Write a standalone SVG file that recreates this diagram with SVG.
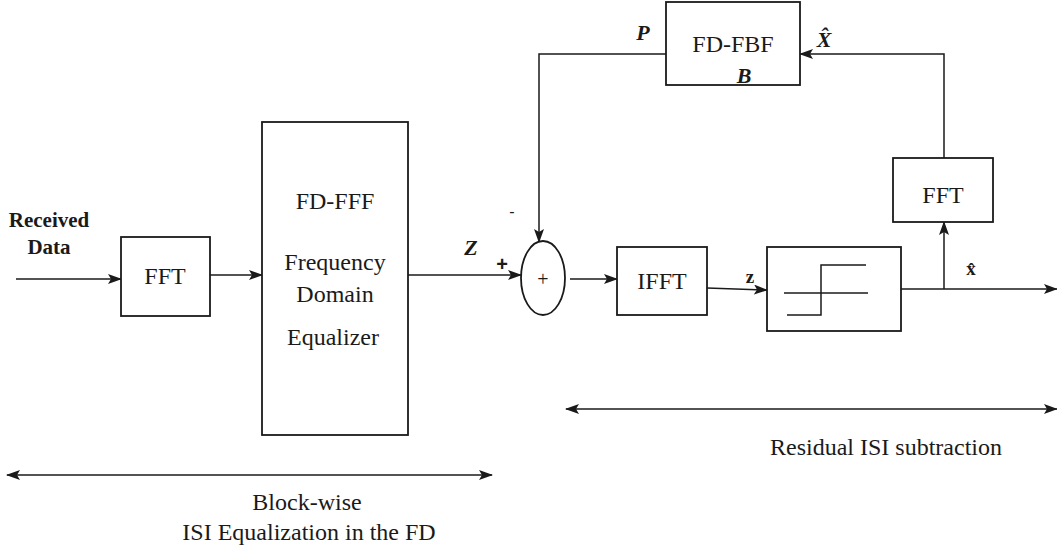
<svg xmlns="http://www.w3.org/2000/svg" width="1057" height="556" viewBox="0 0 1057 556">
<defs>
<marker id="ah" markerUnits="userSpaceOnUse" markerWidth="14" markerHeight="10" refX="13" refY="5" orient="auto">
<path d="M0,0 L14,5 L0,10 L3,5 Z" fill="#1a1a1a"/>
</marker>
<marker id="ahs" markerUnits="userSpaceOnUse" markerWidth="14" markerHeight="10" refX="1" refY="5" orient="auto">
<path d="M14,0 L0,5 L14,10 L11,5 Z" fill="#1a1a1a"/>
</marker>
</defs>
<style>
.box{fill:#fff;stroke:#1a1a1a;stroke-width:1.8}
.ln{fill:none;stroke:#1a1a1a;stroke-width:1.5}
.t{font-family:"Liberation Serif","Times New Roman",serif;font-size:24px;fill:#1a1a1a;text-anchor:middle}
.b{font-family:"Liberation Serif","Times New Roman",serif;font-size:21px;font-weight:bold;fill:#1a1a1a;text-anchor:middle}
.bi{font-family:"Liberation Serif","Times New Roman",serif;font-size:22px;font-weight:bold;font-style:italic;fill:#1a1a1a;text-anchor:middle}
</style>
<rect width="1057" height="556" fill="#fff"/>
<g id="connectors">
<line class="ln" x1="16" y1="279" x2="121" y2="279" marker-end="url(#ah)"/>
<line class="ln" x1="210" y1="275" x2="262" y2="275" marker-end="url(#ah)"/>
<line class="ln" x1="408" y1="275" x2="521" y2="275" marker-end="url(#ah)"/>
<line class="ln" x1="570" y1="279" x2="617" y2="279" marker-end="url(#ah)"/>
<line class="ln" x1="707" y1="288" x2="767" y2="290" marker-end="url(#ah)"/>
<line class="ln" x1="901" y1="289" x2="1057" y2="289" marker-end="url(#ah)"/>
<line class="ln" x1="944" y1="289" x2="944" y2="222" marker-end="url(#ah)"/>
<polyline class="ln" points="944,158 944,54 800,54" marker-end="url(#ah)"/>
<polyline class="ln" points="670,54 539,54 539,242" marker-end="url(#ah)"/>
<line class="ln" x1="7" y1="475" x2="492" y2="475" marker-start="url(#ahs)" marker-end="url(#ah)"/>
<line class="ln" x1="566" y1="409" x2="1057" y2="409" marker-start="url(#ahs)" marker-end="url(#ah)"/>
</g>
<g id="input-label">
<text class="b" x="49" y="227">Received</text>
<text class="b" x="49" y="254">Data</text>
</g>
<g id="fft1">
<rect class="box" x="121" y="237" width="89" height="79"/>
<text class="t" x="165" y="284">FFT</text>
</g>
<g id="fdfff">
<rect class="box" x="262" y="122" width="146" height="313"/>
<text class="t" x="335" y="209">FD-FFF</text>
<text class="t" x="335" y="270">Frequency</text>
<text class="t" x="335" y="302">Domain</text>
<text class="t" x="333" y="345">Equalizer</text>
</g>
<g id="summer">
<ellipse class="box" cx="543" cy="278" rx="22" ry="37"/>
<text x="543" y="286" font-family="Liberation Serif, serif" font-size="20" fill="#1a1a1a" text-anchor="middle">+</text>
<text class="bi" x="471" y="255">Z</text>
<text x="502" y="271" font-family="Liberation Sans, Arial, sans-serif" font-size="20" font-weight="bold" fill="#1a1a1a" text-anchor="middle">+</text>
<text x="512" y="217" font-family="Liberation Sans, Arial, sans-serif" font-size="16" fill="#1a1a1a" text-anchor="middle">-</text>
</g>
<g id="ifft">
<rect class="box" x="617" y="247" width="90" height="68"/>
<text class="t" x="662" y="289">IFFT</text>
<text x="750" y="283" font-family="Liberation Serif, serif" font-size="19" font-weight="bold" fill="#1a1a1a" text-anchor="middle">z</text>
</g>
<g id="slicer">
<rect class="box" x="767" y="247" width="134" height="84"/>
<line class="ln" x1="784" y1="293" x2="868" y2="293"/>
<polyline class="ln" points="787,315 821,315 821,265 866,265"/>
</g>
<g id="fft2">
<rect class="box" x="893" y="158" width="100" height="64"/>
<text class="t" x="943" y="203">FFT</text>
<text x="971" y="275" font-family="Liberation Serif, serif" font-size="19" font-weight="bold" fill="#1a1a1a" text-anchor="middle">x̂</text>
</g>
<g id="fdfbf">
<rect class="box" x="666" y="2" width="134" height="83"/>
<text class="t" x="733" y="52">FD-FBF</text>
<text class="bi" x="744" y="83">B</text>
<text class="bi" x="643" y="40">P</text>
<text class="bi" x="824" y="47">X̂</text>
</g>
<g id="labels">
<text class="t" x="307" y="510">Block-wise</text>
<text class="t" x="309" y="540">ISI Equalization in the FD</text>
<text class="t" x="886" y="455">Residual ISI subtraction</text>
</g>
</svg>
